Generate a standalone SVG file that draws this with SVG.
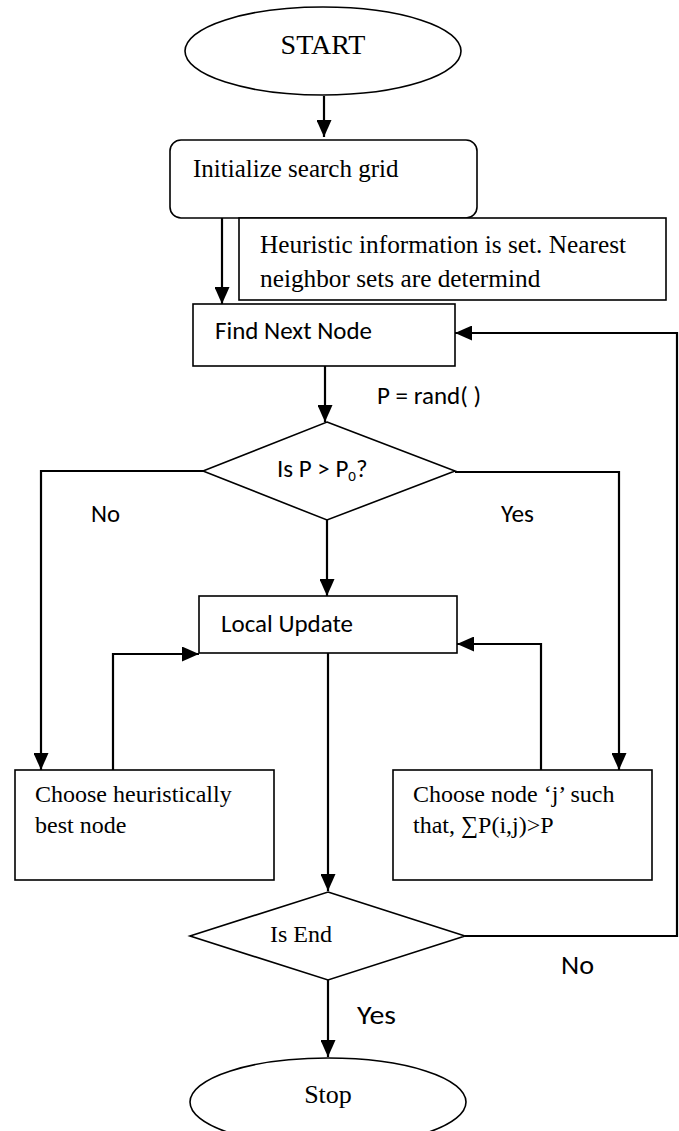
<svg xmlns="http://www.w3.org/2000/svg" width="679" height="1131" viewBox="0 0 679 1131">
<style>
.box{fill:#fff;stroke:#000;stroke-width:1.6}
.ln{fill:none;stroke:#000;stroke-width:2.2}
.arr{marker-end:url(#ah)}
.serif{font-family:"Liberation Serif","Times New Roman",serif;font-size:24px;fill:#000}
.sans{font-family:Carlito,Calibri,"Liberation Sans",Arial,sans-serif;font-size:24px;fill:#000}
</style>
<defs>
<marker id="ah" markerUnits="userSpaceOnUse" markerWidth="17" markerHeight="15" refX="17" refY="7.5" orient="auto">
<path d="M0,0 L17,7.5 L0,15 z" fill="#000"/>
</marker>
</defs>
<rect width="679" height="1131" fill="#fff"/>
<g id="connectors">
<path class="ln arr" d="M324,96 L324,137"/>
<path class="ln arr" d="M222,218 L222,304"/>
<path class="ln arr" d="M325,366 L325,422"/>
<path class="ln arr" d="M203,471 L41,471 L41,770"/>
<path class="ln arr" d="M455,472 L619,472 L619,770"/>
<path class="ln arr" d="M327,520 L327,596"/>
<path class="ln arr" d="M113,770 L113,654 L199,654"/>
<path class="ln arr" d="M541,770 L541,644 L457,644"/>
<path class="ln arr" d="M328,653 L328,891"/>
<path class="ln arr" d="M465,936 L677,936 L677,333 L455,333"/>
<path class="ln arr" d="M328,980 L328,1057"/>
</g>
<g id="start">
<ellipse class="box" cx="323" cy="51" rx="138" ry="44"/>
<text class="serif" x="323" y="54" text-anchor="middle" style="font-size:28px">START</text>
</g>
<g id="init">
<rect class="box" x="170" y="140" width="307" height="78" rx="11"/>
<text class="serif" x="193" y="177" style="font-size:25px">Initialize search grid</text>
</g>
<g id="heuristic">
<rect class="box" x="239" y="218" width="427" height="82"/>
<text class="serif" x="260" y="253" style="font-size:25.3px">Heuristic information is set. Nearest</text>
<text class="serif" x="260" y="287" style="font-size:25.3px">neighbor sets are determind</text>
</g>
<g id="findnext">
<rect class="box" x="193" y="304" width="262" height="62"/>
<text class="sans" x="215" y="339" textLength="157" lengthAdjust="spacingAndGlyphs">Find Next Node</text>
</g>
<g id="prand">
<text class="sans" x="377" y="404" textLength="104" lengthAdjust="spacingAndGlyphs">P = rand( )</text>
</g>
<g id="decision1">
<polygon class="box" points="327,422 455,471 327,520 203,471"/>
<text class="sans" x="277" y="477" style="font-size:25px">Is P &gt; P<tspan style="font-size:15px" dy="4">0</tspan><tspan dy="-4">?</tspan></text>
</g>
<g id="labels1">
<text class="sans" x="91" y="522" textLength="29" lengthAdjust="spacingAndGlyphs">No</text>
<text class="sans" x="501" y="522" textLength="33" lengthAdjust="spacingAndGlyphs">Yes</text>
</g>
<g id="localupdate">
<rect class="box" x="199" y="596" width="258" height="57"/>
<text class="sans" x="221" y="632" textLength="132" lengthAdjust="spacingAndGlyphs">Local Update</text>
</g>
<g id="heurbest">
<rect class="box" x="15" y="770" width="259" height="110"/>
<text class="serif" x="35" y="802">Choose heuristically</text>
<text class="serif" x="35" y="833">best node</text>
</g>
<g id="choosej">
<rect class="box" x="393" y="770" width="259" height="110"/>
<text class="serif" x="413" y="802">Choose node ‘j’ such</text>
<text class="serif" x="413" y="833">that, ∑P(i,j)&gt;P</text>
</g>
<g id="isend">
<polygon class="box" points="328,892 465,936 328,980 190,936"/>
<text class="serif" x="270" y="942">Is End</text>
</g>
<g id="labels2">
<text class="sans" x="561" y="974" style="font-size:26px" textLength="33" lengthAdjust="spacingAndGlyphs">No</text>
<text class="sans" x="357" y="1024" style="font-size:26px" textLength="39" lengthAdjust="spacingAndGlyphs">Yes</text>
</g>
<g id="stop">
<ellipse class="box" cx="328" cy="1102" rx="138" ry="44"/>
<text class="serif" x="328" y="1103" text-anchor="middle" style="font-size:26px">Stop</text>
</g>
</svg>
